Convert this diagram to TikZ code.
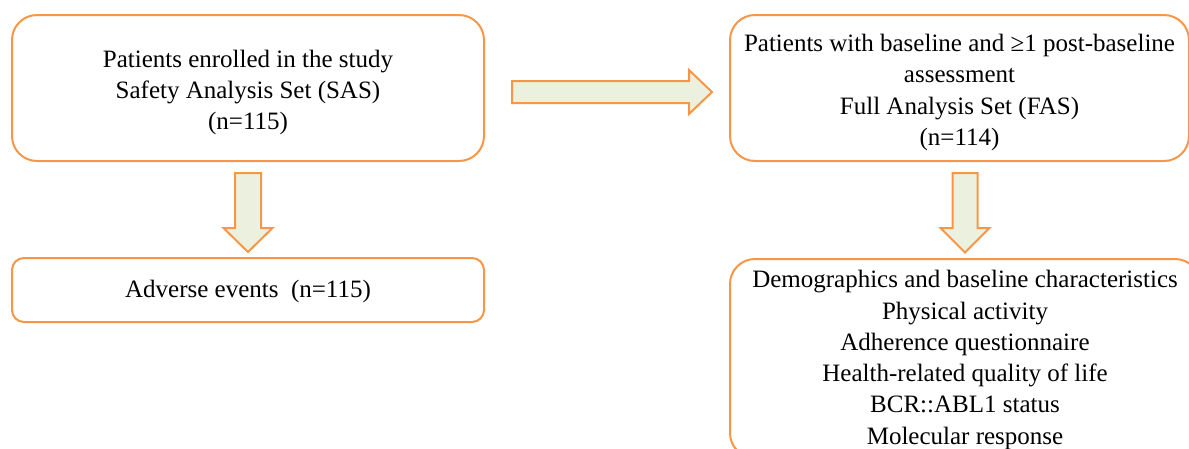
\documentclass[tikz,border=0pt]{standalone}
\usepackage{fontspec}
\setmainfont{Liberation Serif}
\usetikzlibrary{calc}
\definecolor{boxorange}{HTML}{F79646}
\definecolor{arrowfill}{HTML}{EBF1DE}
\tikzset{
  flowbox/.style={draw=boxorange, line width=2pt, fill=white, inner sep=0pt},
  flowtext/.style={align=center, inner sep=0pt, font=\fontsize{25}{31.3}\selectfont},
  blockarrow/.style={draw=boxorange, line width=2pt, fill=arrowfill, line join=miter}
}
\begin{document}
\begin{tikzpicture}[x=1pt,y=-1pt]
\useasboundingbox (0,0) rectangle (1189,448);
\clip (0,0) rectangle (1189,448);
\node[flowbox, rounded corners=25pt, minimum width=472pt, minimum height=146pt] (sas) at (248,88) {};
\node[flowtext] (sastext) at ($(sas.center)+(0,4.5)$)
  {Patients enrolled in the study\\Safety Analysis Set (SAS)\\(n=115)};
\node[flowbox, rounded corners=12pt, minimum width=472pt, minimum height=64pt] (ae) at (248,290) {};
\node[flowtext] (aetext) at ($(ae.center)+(0,1.5)$) {Adverse events~~(n=115)};
\node[flowbox, rounded corners=25pt, minimum width=459pt, minimum height=146pt] (fas) at (959.5,88) {};
\node[flowtext] (fastext) at ($(fas.center)+(0,4.5)$)
  {Patients with baseline and ≥1 post-baseline\\assessment\\Full Analysis Set (FAS)\\(n=114)};
\node[flowbox, rounded corners=25pt, minimum width=470pt, minimum height=199pt] (out) at (965,358.5) {};
\node[flowtext] (outtext) at ($(out.center)+(0,1.5)$)
  {Demographics and baseline characteristics\\Physical activity\\Adherence questionnaire\\Health-related quality of life\\BCR::ABL1 status\\Molecular response};
% right block arrow from sas to fas
\coordinate (ra) at ($(sas.east)+(27,4)$);
\draw[blockarrow] (ra) ++(0,-11) -- ++(177,0) -- ++(0,-11) -- ++(23,22) -- ++(-23,22) -- ++(0,-11) -- ++(-177,0) -- cycle;
% down block arrow sas -> ae
\coordinate (da) at ($(sas.south)+(0,11)$);
\draw[blockarrow] (da) ++(-13,0) -- ++(26,0) -- ++(0,55) -- ++(11.5,0) -- ++(-24.5,24) -- ++(-24.5,-24) -- ++(11.5,0) -- cycle;
% down block arrow fas -> out
\coordinate (db) at ($(fas.south)+(5.5,11)$);
\draw[blockarrow] (db) ++(-12.5,0) -- ++(25,0) -- ++(0,55) -- ++(12,0) -- ++(-24.5,24.5) -- ++(-24.5,-24.5) -- ++(12,0) -- cycle;
\end{tikzpicture}
\end{document}
